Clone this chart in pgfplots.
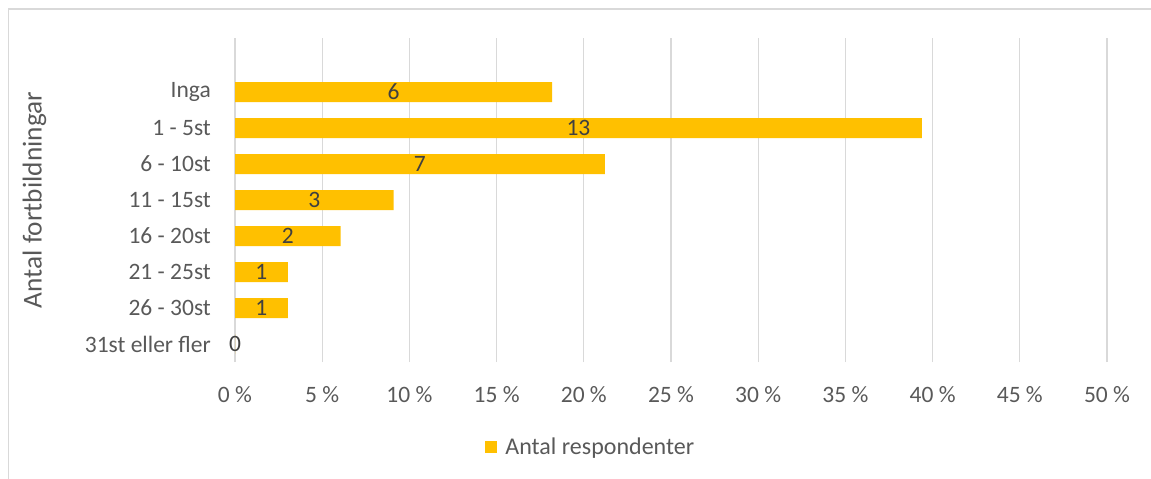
\documentclass[border=0pt]{standalone}
\usepackage{pgfplots}
\pgfplotsset{compat=1.18}
\usepackage{pgfplotstable}
\usepackage{fontspec}
\setmainfont{Carlito}
\definecolor{barc}{HTML}{FFC000}
\definecolor{gridc}{HTML}{D9D9D9}
\definecolor{txt}{HTML}{595959}
\definecolor{lbl}{HTML}{404040}
\pgfplotstableread{
idx pct n
7 18.18 6
6 39.39 13
5 21.21 7
4 9.09 3
3 6.06 2
2 3.03 1
1 3.03 1
0 0 0
}\datatab
\begin{document}
\begin{tikzpicture}[x=1pt,y=1pt]
\useasboundingbox (0,0) rectangle (1151,-479);
\draw[gridc, line width=1.3pt] (8.5,-490) -- (8.5,-9) -- (1160,-9);
\begin{axis}[
  at={(235pt,-362pt)}, anchor=south west,
  scale only axis, width=872pt, height=324pt,
  xmin=0, xmax=50, ymin=-0.5, ymax=8.5,
  xbar, bar width=20pt, bar shift=0pt,
  axis line style={draw=none},
  major tick length=0pt,
  xmajorgrids, major grid style={gridc, line width=1.3pt},
  xtick={0,5,...,50},
  xticklabels={0~\%,5~\%,10~\%,15~\%,20~\%,25~\%,30~\%,35~\%,40~\%,45~\%,50~\%},
  ytick={0,...,7},
  yticklabels={31st eller fler,26 - 30st,21 - 25st,16 - 20st,11 - 15st,6 - 10st,1 - 5st,Inga},
  tick label style={font=\fontsize{23.5}{28}\selectfont, text=txt},
  xticklabel style={anchor=base, inner sep=0pt, yshift=-40pt},
  yticklabel style={anchor=east, inner sep=0pt, xshift=-24pt},
  ylabel={Antal fortbildningar},
  ylabel style={at={(axis description cs:-0.23,0.5)}, anchor=center, font=\fontsize{27.3}{32}\selectfont, text=txt},
  legend style={draw=none, fill=none, inner sep=0pt, at={(axis description cs:0.287,-0.262)}, anchor=west, font=\fontsize{24}{28}\selectfont, text=txt},
  legend image code/.code={\fill[barc] (0pt,-6pt) rectangle (12pt,6pt); \path (18pt,0pt);},
  clip=false,
]
\addplot[fill=barc, draw=none] table[x=pct, y=idx] {\datatab};
\addlegendentry{Antal respondenter}
\addplot[draw=none, mark=none, nodes near coords, point meta=explicit symbolic,
  every node near coord/.style={anchor=center, inner sep=0pt, text=lbl, font=\fontsize{23.5}{28}\selectfont}]
  table[x expr=\thisrow{pct}/2, y=idx, meta=n] {\datatab};
\end{axis}
\end{tikzpicture}
\end{document}
